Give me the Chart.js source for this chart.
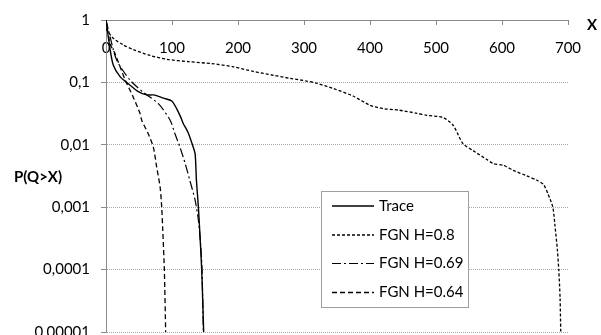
<!DOCTYPE html>
<html>
<head>
<meta charset="utf-8">
<script src="https://cdn.jsdelivr.net/npm/chart.js@4"></script>
<style>
  html, body { margin: 0; padding: 0; background: #fff; }
  #wrap { width: 601px; height: 335px; }
</style>
</head>
<body>
<div id="wrap"><canvas id="c" width="601" height="335"></canvas></div>
<script>
// Complementary distribution P(Q > X) of queue length, trace vs. FGN models
const traceX = [0, 6, 11, 21, 36, 49, 62, 72, 87, 100, 107, 113, 117, 124, 131, 135, 137, 140, 142, 145, 148];
const traceP = [1, 0.35, 0.19, 0.125, 0.091, 0.071, 0.063, 0.063, 0.056, 0.05, 0.038, 0.028, 0.022, 0.016, 0.01, 0.0072, 0.0027, 0.001, 0.00042, 0.0001, 0.00001];

const fgn08X = [0, 11, 26, 41, 67, 92, 125, 160, 193, 223, 254, 279, 304, 319, 344, 375, 400, 420, 443, 471, 486, 511, 526, 541, 556, 577, 587, 602, 617, 637, 653, 663, 670, 677, 680, 684, 686, 688, 689];
const fgn08P = [0.72, 0.51, 0.40, 0.336, 0.27, 0.235, 0.215, 0.2, 0.178, 0.15, 0.13, 0.116, 0.105, 0.097, 0.08, 0.06, 0.043, 0.038, 0.036, 0.032, 0.0297, 0.0273, 0.0205, 0.0104, 0.0081, 0.0058, 0.005, 0.0047, 0.0039, 0.0032, 0.0027, 0.0023, 0.0016, 0.001, 0.00054, 0.0002, 0.0001, 0.000035, 0.00001];

const fgn069X = [0, 3.5, 16, 36, 56, 79, 97, 104.5, 112, 120, 127, 135, 140, 143.5, 145.5, 147.5];
const fgn069P = [1, 0.7, 0.23, 0.11, 0.07, 0.046, 0.025, 0.015, 0.0092, 0.005, 0.0027, 0.0013, 0.00062, 0.00024, 0.0001, 0.00001];

const fgn064X = [0, 6, 13.6, 29, 41, 51.5, 54, 64, 71.7, 76.8, 82, 84.4, 86, 88.4, 90.4];
const fgn064P = [1, 0.42, 0.29, 0.11, 0.059, 0.032, 0.025, 0.015, 0.0092, 0.0044, 0.0021, 0.001, 0.00043, 0.0001, 0.00001];

const seriesNames = ['Trace', 'FGN H=0.8', 'FGN H=0.69', 'FGN H=0.64'];

const yTickValues = [1, 0.1, 0.01, 0.001, 0.0001, 0.00001];
const yTickLabels = ['1', '0,1', '0,01', '0,001', '0,0001', '0,00001'];
const xTickValues = [0, 100, 200, 300, 400, 500, 600, 700];

const FONT = 'Lato, "Open Sans", sans-serif';
const FONT_SIZE = 15;
const AXIS_GREY = '#8a8a8a';

const pts = (xs, ys) => xs.map((x, i) => ({ x: x, y: ys[i] }));

// Legend drawn as a framed box inside the plot area, with line samples
const boxLegend = {
  id: 'boxLegend',
  afterDraw(chart) {
    const ctx = chart.ctx;
    const bx = 321.5, by = 191.5, bw = 147, bh = 116;
    ctx.save();
    ctx.fillStyle = '#fff';
    ctx.fillRect(bx, by, bw, bh);
    ctx.strokeStyle = '#a0a0a0';
    ctx.lineWidth = 1;
    ctx.strokeRect(bx, by, bw, bh);
    const rows = [206, 235, 263.5, 292.5];
    chart.data.datasets.forEach((ds, i) => {
      const y = rows[i];
      ctx.beginPath();
      ctx.setLineDash(ds.borderDash || []);
      ctx.strokeStyle = ds.borderColor;
      ctx.lineWidth = ds.borderWidth;
      ctx.moveTo(332, y);
      ctx.lineTo(374, y);
      ctx.stroke();
      ctx.setLineDash([]);
      ctx.fillStyle = '#000';
      ctx.font = FONT_SIZE + 'px ' + FONT;
      ctx.textAlign = 'left';
      ctx.textBaseline = 'middle';
      ctx.fillText(ds.label, 379, y);
    });
    ctx.restore();
  }
};

// Horizontal axis names: "P(Q>X)" at the left, "X" at the end of the top axis
const axisNames = {
  id: 'axisNames',
  afterDraw(chart) {
    const ctx = chart.ctx;
    const a = chart.chartArea;
    ctx.save();
    ctx.fillStyle = '#000';
    ctx.font = 'bold ' + FONT_SIZE + 'px ' + FONT;
    ctx.textAlign = 'center';
    ctx.textBaseline = 'middle';
    ctx.fillText('P(Q>X)', 38, (a.top + a.bottom) / 2 + 1);
    ctx.fillText('X', 592, 25);
    ctx.restore();
  }
};

const common = { fill: false, pointRadius: 0, tension: 0.25, borderColor: '#000' };

new Chart(document.getElementById('c'), {
  type: 'line',
  data: {
    datasets: [
      Object.assign({ label: seriesNames[0], data: pts(traceX, traceP), borderWidth: 1.4, borderDash: [] }, common),
      Object.assign({ label: seriesNames[1], data: pts(fgn08X, fgn08P), borderWidth: 1.3, borderDash: [3, 2] }, common),
      Object.assign({ label: seriesNames[2], data: pts(fgn069X, fgn069P), borderWidth: 1.2, borderDash: [9, 3, 2, 3] }, common),
      Object.assign({ label: seriesNames[3], data: pts(fgn064X, fgn064P), borderWidth: 1.3, borderDash: [5, 3] }, common)
    ]
  },
  options: {
    responsive: false,
    animation: false,
    devicePixelRatio: 1,
    layout: { padding: { top: 20, right: 33, bottom: 3, left: 0 } },
    plugins: { legend: { display: false }, tooltip: { enabled: false } },
    scales: {
      x: {
        type: 'linear',
        position: { y: 1 },
        min: 0,
        max: 700,
        afterBuildTicks: (s) => { s.ticks = xTickValues.map(v => ({ value: v })); },
        ticks: { color: '#000', font: { family: FONT, size: FONT_SIZE }, padding: 15, maxRotation: 0, callback: (v) => String(v) },
        grid: { drawOnChartArea: false, drawTicks: true, tickLength: 4, tickColor: AXIS_GREY, tickWidth: 1 },
        border: { display: true, color: AXIS_GREY, width: 1 }
      },
      y: {
        type: 'logarithmic',
        position: 'left',
        min: 0.00001,
        max: 1,
        afterBuildTicks: (s) => { s.ticks = yTickValues.map(v => ({ value: v })); },
        afterFit: (s) => { s.width = 106; s.paddingTop = 0; s.paddingBottom = 0; },
        ticks: {
          color: '#000',
          font: { family: FONT, size: FONT_SIZE },
          padding: 11,
          callback: (v) => { const i = yTickValues.indexOf(v); return i >= 0 ? yTickLabels[i] : ''; }
        },
        grid: { color: '#a8a8a8', lineWidth: 1, drawTicks: true, tickLength: 5, tickColor: AXIS_GREY, tickWidth: 1, tickBorderDash: [] },
        border: { display: true, color: AXIS_GREY, width: 1, dash: [1, 1] }
      }
    }
  },
  plugins: [boxLegend, axisNames]
});
</script>
</body>
</html>
